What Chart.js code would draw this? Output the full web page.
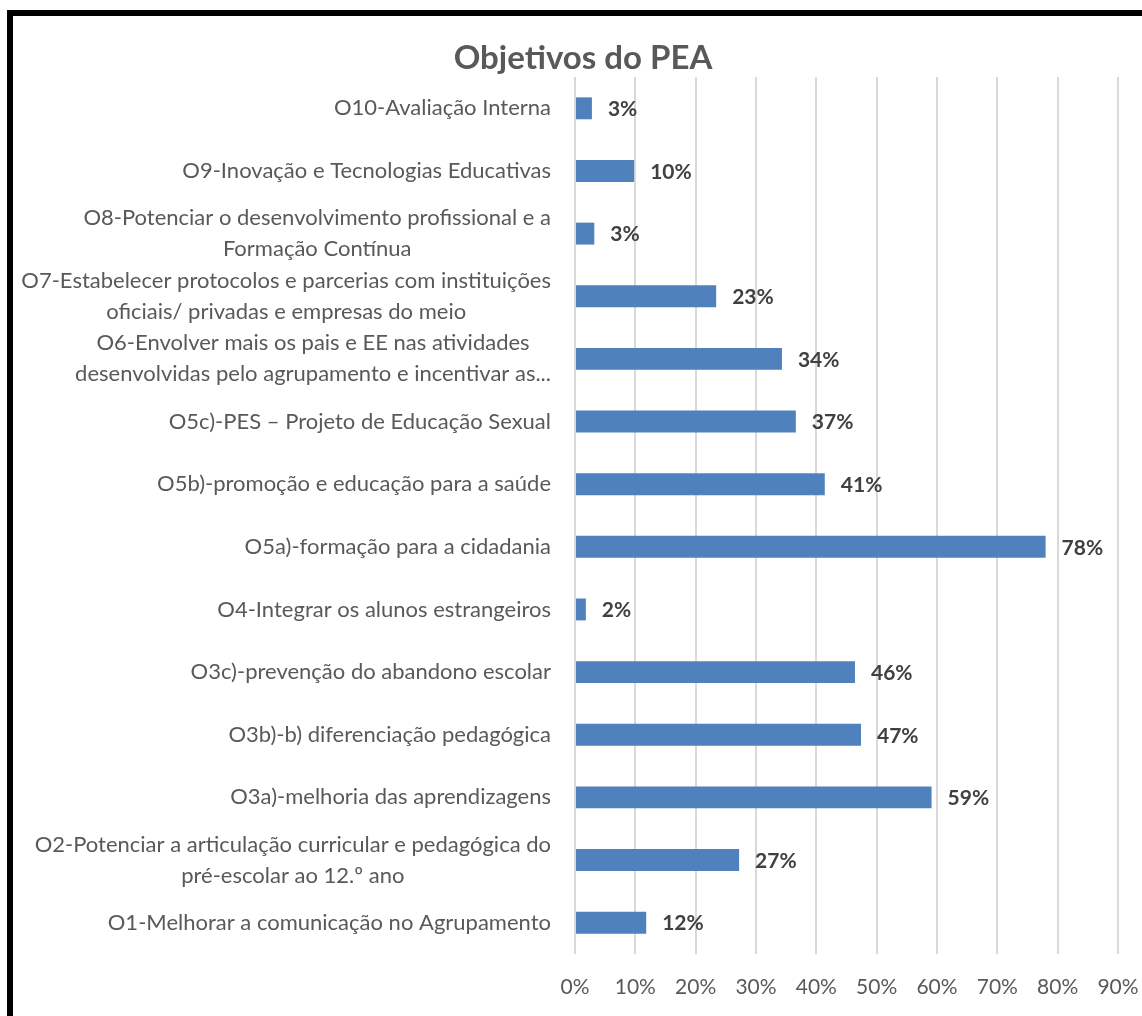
<!DOCTYPE html>
<html>
<head>
<meta charset="utf-8">
<script src="https://cdn.jsdelivr.net/npm/chart.js@4.4.1/dist/chart.umd.min.js"></script>
<style>
  html, body { margin: 0; padding: 0; background: #fff; overflow: hidden; width: 1142px; height: 1016px; }
  #peaChart { display: block; }
</style>
</head>
<body>
<canvas id="peaChart" width="1142" height="1016"></canvas>
<script>
const chartTitle = 'Objetivos do PEA';
const categories = [
  ['O10-Avaliação Interna'],
  ['O9-Inovação e Tecnologias Educativas'],
  ['O8-Potenciar o desenvolvimento profissional e a', 'Formação Contínua'],
  ['O7-Estabelecer protocolos e parcerias com instituições', 'oficiais/ privadas e empresas do meio'],
  ['O6-Envolver mais os pais e EE nas atividades', 'desenvolvidas pelo agrupamento e incentivar as...'],
  ['O5c)-PES – Projeto de Educação Sexual'],
  ['O5b)-promoção e educação para a saúde'],
  ['O5a)-formação para a cidadania'],
  ['O4-Integrar os alunos estrangeiros'],
  ['O3c)-prevenção do abandono escolar'],
  ['O3b)-b) diferenciação pedagógica'],
  ['O3a)-melhoria das aprendizagens'],
  ['O2-Potenciar a articulação curricular e pedagógica do', 'pré-escolar ao 12.º ano'],
  ['O1-Melhorar a comunicação no Agrupamento']
];
// percent of answers
const shares = [2.8, 9.8, 3.2, 23.4, 34.3, 36.6, 41.4, 78.0, 1.8, 46.4, 47.4, 59.1, 27.2, 11.8];
const xMin = 0;
const xMax = 90;
const xStep = 10;

const GREY = '#595959';
const FONT = 'Lato, "Open Sans", sans-serif';

// the black frame of the pasted chart (only its top and left edges are in view)
const frame = {
  id: 'frame',
  beforeDraw(chart) {
    const { ctx, width, height } = chart;
    ctx.save();
    ctx.fillStyle = '#000';
    ctx.fillRect(7, 10, 6, height - 10);
    ctx.fillRect(7, 10, width - 7, 6);
    ctx.restore();
  }
};

// wrapped category labels: each block right-aligned, its lines centred (like Excel)
const categoryLabels = {
  id: 'categoryLabels',
  afterDraw(chart) {
    const { ctx, chartArea } = chart;
    const yScale = chart.scales.y;
    ctx.save();
    ctx.font = `22px ${FONT}`;
    ctx.fillStyle = GREY;
    ctx.textAlign = 'center';
    ctx.textBaseline = 'middle';
    categories.forEach((lines, i) => {
      const cy = yScale.getPixelForValue(i);
      const widest = Math.max(...lines.map(l => ctx.measureText(l).width));
      const cx = chartArea.left - 24 - widest / 2;
      lines.forEach((line, k) => {
        ctx.fillText(line, cx, cy + (k - (lines.length - 1) / 2) * 31);
      });
    });
    ctx.restore();
  }
};

const valueLabels = {
  id: 'valueLabels',
  afterDatasetsDraw(chart) {
    const { ctx } = chart;
    ctx.save();
    ctx.font = `bold 21px ${FONT}`;
    ctx.fillStyle = '#404040';
    ctx.textAlign = 'left';
    ctx.textBaseline = 'middle';
    chart.getDatasetMeta(0).data.forEach((bar, i) => {
      ctx.fillText(`${Math.round(shares[i])}%`, bar.x + 16, bar.y + 1);
    });
    ctx.restore();
  }
};

const titleText = {
  id: 'titleText',
  afterDraw(chart) {
    const { ctx } = chart;
    ctx.save();
    ctx.font = `bold 33px ${FONT}`;
    ctx.fillStyle = GREY;
    ctx.textAlign = 'center';
    ctx.textBaseline = 'middle';
    ctx.fillText(chartTitle, 583, 58);
    ctx.restore();
  }
};

new Chart(document.getElementById('peaChart'), {
  type: 'bar',
  data: {
    labels: categories,
    datasets: [{
      data: shares,
      backgroundColor: '#4F81BD',
      borderWidth: 0,
      barPercentage: 1,
      categoryPercentage: 0.35
    }]
  },
  options: {
    indexAxis: 'y',
    responsive: false,
    animation: false,
    layout: { padding: { top: 77, right: 24, bottom: 0, left: 0 } },
    plugins: {
      legend: { display: false },
      title: { display: false },
      tooltip: { enabled: false }
    },
    scales: {
      x: {
        min: xMin,
        max: xMax,
        grid: { color: '#D9D9D9', lineWidth: 2, drawTicks: false },
        border: { display: false },
        ticks: {
          stepSize: xStep,
          padding: 21,
          color: GREY,
          font: { family: FONT, size: 21 },
          callback: v => `${v}%`
        },
        afterFit(scale) {
          scale.height = 62;
          scale.paddingLeft = 0;
          scale.paddingRight = 0;
        }
      },
      y: {
        grid: { display: false },
        border: { display: false },
        ticks: { display: false },
        afterFit(scale) { scale.width = 575; }
      }
    }
  },
  plugins: [frame, categoryLabels, valueLabels, titleText]
});
</script>
</body>
</html>
